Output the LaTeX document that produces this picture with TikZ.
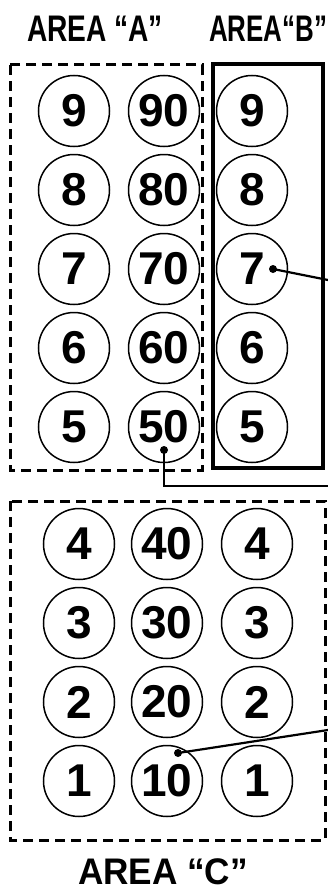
\documentclass[tikz,border=0pt]{standalone}
\usepackage{fontspec}
\setmainfont{Liberation Sans}
\usepackage{graphicx}

\begin{document}
\begin{tikzpicture}[x=1pt, y=-1pt,
    bulb/.style={draw, circle, line width=1.5pt, minimum size=71pt, inner sep=0pt,
      font=\fontsize{46}{46}\selectfont\bfseries},
    dashbox/.style={line width=3pt, dash pattern=on 10pt off 6pt},
    solidbox/.style={line width=3.2pt},
    lead/.style={line width=2.2pt},
    areatitle/.style={inner sep=0pt, font=\fontsize{37}{37}\selectfont\bfseries}]

    \useasboundingbox (0,0) rectangle (328,891);

    \def\RowA{111}
    \def\RowC{544}
    \def\Pitch{79}

    % Titles
    \node[areatitle] (titleA) at (95,29) {\scalebox{0.76}[1]{AREA “A”}};
    \node[areatitle] (titleB) at (268,29) {\scalebox{0.7}[1]{AREA“B”}};
    \node[areatitle] (titleC) at (163,872) {\scalebox{0.95}[1]{AREA “C”}};

    % Area boxes
    \draw[dashbox] (10,65) rectangle (202,470);
    \draw[solidbox] (213,64) rectangle (323,468);
    \draw[dashbox] (10,501) rectangle (325,840);

    % Pins of areas A and B
    \foreach \n/\row in {9/0,8/1,7/2,6/3,5/4} {
      \pgfmathsetmacro{\y}{\RowA+\row*\Pitch}
      \pgfmathtruncatemacro{\t}{10*\n}
      \node[bulb] (a\n) at (74,\y) {\n};
      \node[bulb] (a\t) at (164,\y) {\t};
      \node[bulb] (b\n) at (252,\y) {\n};
    }

    % Pins of area C
    \foreach \n/\row in {4/0,3/1,2/2,1/3} {
      \pgfmathsetmacro{\y}{\RowC+\row*\Pitch}
      \pgfmathtruncatemacro{\t}{10*\n}
      \node[bulb] (c\n) at (79,\y) {\n};
      \node[bulb] (c\t) at (167,\y) {\t};
      \node[bulb] (r\n) at (257,\y) {\n};
    }

    % Leads
    \coordinate (dot7) at ([xshift=21pt]b7.center);
    \coordinate (dot50) at ([yshift=-23pt]a50.center);
    \coordinate (dot10) at ([xshift=11pt, yshift=28pt]c10.center);
    \coordinate (out7) at (328,280);
    \coordinate (out50) at (328,486);
    \coordinate (out10) at (328,730);

    \draw[lead] (dot7) -- (out7);
    \draw[lead] (dot50) |- (out50);
    \draw[lead] (dot10) -- (out10);
    \foreach \d in {dot7,dot50,dot10}
      \fill (\d) circle (4);
\end{tikzpicture}
\end{document}
